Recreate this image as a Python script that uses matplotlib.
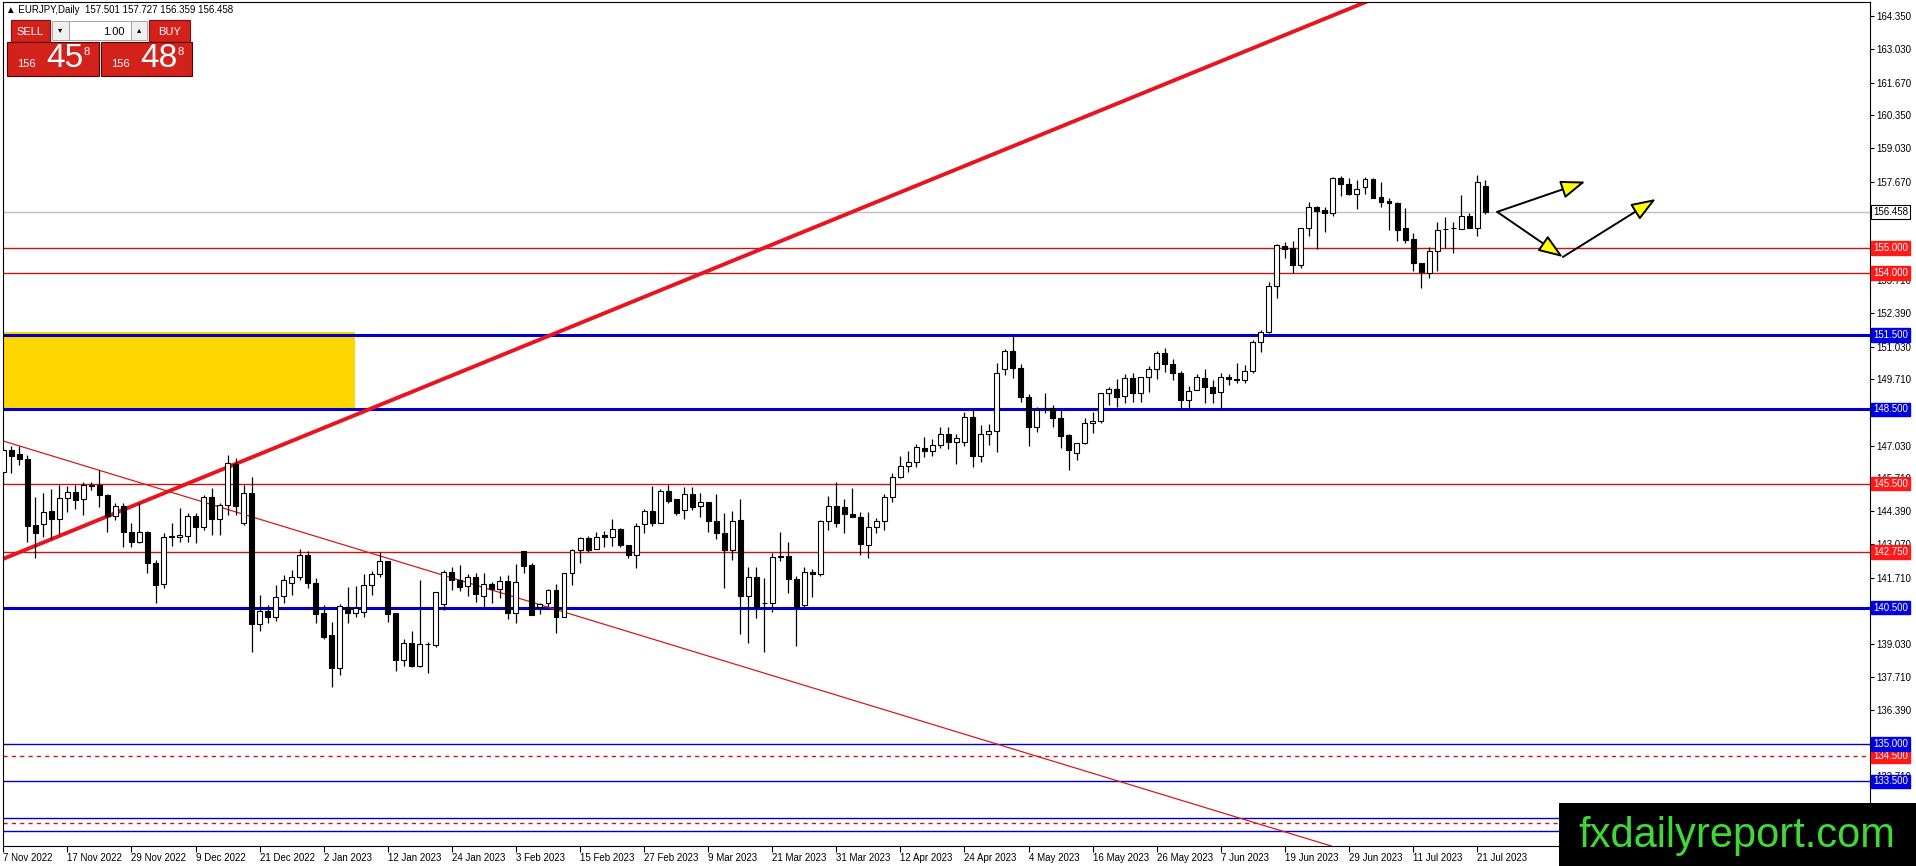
import numpy as np
import matplotlib
matplotlib.use('Agg')
import matplotlib.pyplot as plt
import matplotlib.transforms as mtransforms
from matplotlib.patches import Rectangle, FancyArrowPatch

plt.rcParams['font.family'] = ['Liberation Sans', 'DejaVu Sans']

# ---- data (EURJPY daily, one bar per weekday) ----
symbol = 'EURJPY,Daily'
last_bar = [157.501, 157.727, 156.359, 156.458]
sell_quote = ['156', '45', '8']
buy_quote = ['156', '48', '8']
lot_size = '1.00'

opens = [
    145.96, 146.86, 146.68, 146.50, 143.84, 143.87, 144.38, 144.06, 144.91, 145.18,
    144.87, 145.45, 145.45, 145.04, 144.20, 144.60, 143.57, 143.16, 143.57, 142.30,
    141.45, 143.36, 143.34, 143.40, 144.20, 143.74, 144.95, 144.06, 144.64, 146.29,
    143.90, 145.11, 139.83, 140.37, 140.14, 140.97, 141.50, 141.75, 142.62, 141.50,
    140.27, 139.40, 138.08, 140.54, 140.30, 140.34, 141.42, 141.86, 142.38, 140.27,
    138.39, 139.06, 138.15, 139.02, 139.00, 140.65, 141.95, 141.62, 141.37, 141.75,
    140.97, 141.45, 141.24, 141.58, 140.30, 142.79, 142.22, 140.54, 140.67, 141.21,
    140.14, 141.89, 142.83, 143.30, 142.85, 143.42, 143.34, 143.66, 143.03, 142.62,
    143.86, 144.40, 143.93, 145.20, 144.87, 144.44, 145.08, 144.60, 144.75, 144.00,
    143.50, 142.83, 144.04, 140.97, 141.72, 140.68, 140.68, 142.56, 142.58, 141.64,
    140.61, 141.95, 141.86, 143.99, 144.60, 144.55, 144.26, 144.17, 143.03, 143.77,
    143.99, 144.98, 145.78, 146.23, 146.36, 146.93, 146.83, 147.06, 147.50, 147.17,
    147.19, 148.18, 146.63, 147.50, 147.64, 150.11, 150.86, 150.15, 148.98, 147.77,
    148.55, 148.57, 148.14, 147.47, 146.75, 147.13, 147.93, 148.04, 149.14, 149.31,
    149.04, 149.75, 149.17, 149.82, 150.11, 150.76, 150.33, 149.98, 148.88, 149.28,
    149.75, 149.41, 149.21, 149.82, 149.71, 149.69, 150.06, 151.23, 151.63, 153.47,
    155.10, 154.99, 154.32, 155.80, 156.67, 156.54, 156.40, 157.81, 157.59, 157.17,
    157.45, 157.77, 157.05, 156.90, 156.83, 155.80, 155.36, 154.39, 154.01, 154.88,
    155.77, 155.80, 155.77, 156.31, 155.80, 157.501]

highs = [
    146.95, 147.00, 147.02, 146.66, 144.98, 145.14, 145.27, 145.45, 145.42, 145.45,
    145.58, 145.58, 146.05, 145.10, 144.71, 144.71, 143.93, 144.71, 143.60, 142.42,
    143.53, 143.93, 144.51, 144.30, 144.30, 145.04, 145.31, 144.71, 146.66, 146.52,
    145.45, 145.78, 141.00, 140.61, 141.40, 141.80, 142.00, 142.85, 142.80, 141.70,
    140.60, 139.94, 140.65, 141.35, 141.37, 141.86, 141.99, 142.76, 142.40, 140.30,
    139.23, 139.56, 141.62, 139.10, 141.15, 142.00, 142.15, 142.22, 141.85, 141.91,
    141.89, 141.55, 141.78, 141.82, 142.25, 142.80, 142.29, 140.70, 141.24, 141.45,
    141.90, 142.85, 143.34, 143.39, 143.56, 143.60, 144.06, 143.70, 143.03, 143.93,
    144.47, 145.41, 145.27, 145.45, 144.87, 145.35, 145.35, 145.11, 144.75, 145.07,
    144.30, 144.41, 144.87, 142.15, 142.15, 141.68, 142.69, 143.56, 143.16, 141.78,
    142.15, 142.05, 144.04, 145.00, 145.58, 144.87, 145.31, 144.37, 144.37, 144.13,
    145.07, 145.92, 146.62, 146.82, 147.10, 147.37, 147.29, 147.80, 147.80, 147.50,
    148.40, 148.54, 147.87, 147.91, 150.35, 150.92, 151.46, 150.33, 149.12, 148.61,
    149.17, 148.67, 148.57, 147.50, 147.13, 148.14, 148.41, 149.15, 149.39, 149.71,
    149.91, 149.95, 149.82, 150.25, 150.85, 150.96, 150.52, 150.06, 149.44, 149.92,
    150.11, 149.68, 149.95, 149.92, 150.36, 150.29, 151.30, 151.70, 153.65, 155.17,
    155.23, 155.30, 155.80, 156.85, 156.70, 156.65, 157.85, 157.91, 157.81, 157.75,
    157.85, 157.81, 157.68, 157.01, 156.87, 156.60, 155.60, 154.39, 155.03, 156.07,
    156.27, 156.07, 157.14, 156.40, 157.95, 157.727]

lows = [
    145.49, 145.92, 146.25, 143.16, 142.49, 143.36, 143.26, 143.47, 144.37, 144.47,
    144.24, 145.25, 144.57, 143.57, 144.04, 142.96, 142.96, 143.10, 141.90, 140.68,
    141.30, 142.99, 143.16, 143.16, 143.10, 143.63, 143.43, 143.43, 144.24, 144.24,
    143.84, 138.73, 139.57, 139.87, 139.98, 140.70, 141.00, 141.60, 141.30, 139.90,
    139.22, 137.32, 137.79, 139.90, 140.11, 140.11, 141.01, 141.75, 139.94, 137.95,
    138.15, 138.12, 138.12, 137.85, 138.93, 140.40, 141.22, 141.17, 140.98, 140.74,
    140.54, 140.68, 140.88, 140.03, 139.87, 141.89, 140.20, 140.23, 140.54, 139.49,
    140.11, 141.42, 142.29, 142.76, 142.85, 142.96, 142.99, 142.96, 142.49, 142.09,
    143.50, 143.79, 143.93, 144.71, 144.24, 144.06, 144.44, 144.14, 143.57, 143.26,
    141.28, 142.42, 139.44, 139.06, 140.07, 138.73, 140.34, 142.40, 141.08, 138.96,
    140.54, 140.94, 141.78, 143.63, 143.77, 143.53, 144.14, 142.62, 142.49, 143.50,
    143.63, 144.78, 145.72, 145.99, 146.16, 146.59, 146.63, 146.95, 146.90, 146.29,
    147.03, 146.19, 146.36, 147.06, 146.79, 149.88, 149.75, 148.80, 147.03, 147.60,
    148.37, 147.80, 146.93, 146.05, 146.45, 147.10, 147.53, 147.96, 148.67, 148.61,
    148.74, 148.81, 148.81, 149.21, 149.71, 150.02, 149.68, 148.50, 148.50, 149.28,
    148.77, 148.77, 148.50, 149.48, 149.55, 149.58, 149.95, 150.83, 151.59, 152.97,
    154.59, 153.98, 154.18, 155.49, 154.95, 155.66, 156.31, 157.11, 157.14, 156.58,
    157.17, 157.01, 156.67, 155.73, 155.30, 155.22, 154.09, 153.38, 153.78, 154.09,
    154.99, 154.79, 155.77, 155.80, 155.49, 156.359]

closes = [
    146.86, 146.63, 146.48, 143.81, 143.53, 144.37, 144.06, 144.91, 145.18, 144.84,
    145.45, 145.42, 145.04, 144.20, 144.60, 143.57, 143.16, 143.54, 142.29, 141.40,
    143.36, 143.38, 143.43, 144.20, 143.77, 144.95, 144.06, 144.64, 146.32, 144.60,
    145.11, 139.83, 140.37, 140.14, 140.92, 141.60, 141.75, 142.62, 141.50, 140.23,
    139.33, 138.08, 140.57, 140.30, 140.50, 141.42, 141.86, 142.38, 140.23, 138.39,
    139.06, 138.15, 139.02, 139.04, 141.12, 141.95, 141.62, 141.35, 141.72, 141.04,
    141.44, 141.24, 141.58, 140.30, 141.52, 142.19, 140.20, 140.65, 141.21, 140.14,
    141.89, 142.83, 143.30, 142.83, 143.34, 143.34, 143.66, 143.03, 142.62, 143.81,
    144.40, 143.93, 145.20, 144.80, 144.33, 145.08, 144.57, 144.75, 144.00, 143.52,
    142.83, 144.01, 140.97, 141.72, 140.54, 140.67, 142.56, 142.58, 141.64, 140.54,
    141.95, 141.86, 143.99, 144.60, 143.93, 144.28, 144.17, 143.07, 143.77, 143.99,
    144.98, 145.78, 146.23, 146.36, 146.97, 146.83, 147.06, 147.50, 147.17, 147.33,
    148.18, 146.63, 147.50, 147.64, 149.98, 150.86, 150.15, 148.98, 147.77, 148.47,
    148.57, 148.14, 147.44, 146.86, 147.13, 147.93, 148.04, 149.14, 149.31, 148.98,
    149.75, 149.17, 149.82, 150.11, 150.76, 150.33, 149.95, 148.88, 149.25, 149.82,
    149.41, 149.17, 149.82, 149.71, 149.69, 150.06, 151.23, 151.63, 153.47, 155.13,
    154.96, 154.32, 155.80, 156.67, 156.51, 156.40, 157.81, 157.57, 157.17, 157.37,
    157.77, 157.03, 156.87, 156.81, 155.73, 155.33, 154.39, 154.05, 154.88, 155.73,
    155.79, 155.82, 156.31, 155.80, 157.65, 156.458]

date_labels = ['7 Nov 2022', '17 Nov 2022', '29 Nov 2022', '9 Dec 2022', '21 Dec 2022',
               '2 Jan 2023', '12 Jan 2023', '24 Jan 2023', '3 Feb 2023', '15 Feb 2023',
               '27 Feb 2023', '9 Mar 2023', '21 Mar 2023', '31 Mar 2023', '12 Apr 2023',
               '24 Apr 2023', '4 May 2023', '16 May 2023', '26 May 2023', '7 Jun 2023',
               '19 Jun 2023', '29 Jun 2023', '11 Jul 2023', '21 Jul 2023']
bars_per_label = 8

price_ticks = [164.35, 163.03, 161.67, 160.35, 159.03, 157.67, 153.71, 152.39, 151.03,
               149.71, 147.03, 145.71, 144.39, 143.07, 141.71, 139.03, 137.71, 136.39, 133.71]

blue_thick = [151.5, 148.5, 140.5]
blue_thin = [135.0, 133.5, 132.0, 131.5]
red_thin = [155.0, 154.0, 145.5, 142.75]
red_dashed = [134.5, 131.8]
red_labels = [155.0, 154.0, 145.5, 142.75, 134.5]
blue_labels = [151.5, 148.5, 140.5, 135.0, 133.5]

# drawings: (bar, price) anchors
trend_up = [(0, 142.47), (100, 155.67)]
trend_down = [(0, 147.22), (100, 137.37)]
zone_bars = [-1, 43.9]
zone_prices = [148.55, 151.62]
arrow_paths = [[(186.5, 156.46), (197.5, 157.68)],
               [(186.5, 156.46), (194.7, 154.64)],
               [(194.7, 154.64), (206.3, 156.98)]]

# ---- figure ----
W, H = 1916, 866
fig = plt.figure(figsize=(W / 100, H / 100), dpi=100)
fig.patch.set_facecolor('white')
ax = fig.add_axes([3 / W, 20 / H, 1867 / W, 844 / H])
ax.set_xlim(-0.04, 233.05)
ax.set_ylim(130.891, 164.923)

o = np.array(opens)
h = np.array(highs)
l = np.array(lows)
c = np.array(closes)
x = np.arange(len(o))
up = c >= o

# levels
for v in blue_thick:
    ax.axhline(v, color='#0000c8', lw=2.2, zorder=2)
for v in blue_thin:
    ax.axhline(v, color='#0000c8', lw=1.0, zorder=2)
for v in red_thin:
    ax.axhline(v, color='#c81414', lw=1.0, zorder=2)
for v in red_dashed:
    ax.axhline(v, color='#d01414', lw=1.0, ls=(0, (3, 3)), zorder=2)
ax.axhline(last_bar[3], color='#c0c0c0', lw=1.0, zorder=1.8)

ax.fill_between(zone_bars, zone_prices[0], zone_prices[1], color='#ffd700', lw=0, zorder=1)

ax.axline(trend_up[0], trend_up[1], color='#e8141e', lw=2.8, zorder=2.5)
ax.axline(trend_down[0], trend_down[1], color='#d41c1c', lw=0.9, zorder=2.5)

# candles
ax.vlines(x, l, h, color='black', lw=0.9, zorder=3)
body_low = np.minimum(o, c)
body_h = np.maximum(np.abs(c - o), 0.015)
ax.bar(x, body_h, bottom=body_low, width=0.62,
       color=np.where(up, 'white', 'black'), edgecolor='black', linewidth=0.8, zorder=4)

for a, b in arrow_paths:
    ax.add_patch(FancyArrowPatch(a, b, arrowstyle='-|>,head_length=0.75,head_width=0.28',
                                 mutation_scale=20, fc='#ffff00', ec='black', lw=1.4,
                                 shrinkA=0, shrinkB=0, zorder=6))

# axes
for s in ax.spines.values():
    s.set_color('black')
    s.set_linewidth(0.8)
ax.yaxis.tick_right()
ax.set_yticks(price_ticks)
ax.set_yticklabels([f'{v:.3f}' for v in price_ticks])
ax.tick_params(axis='y', direction='out', length=3, width=0.8, labelsize=7, pad=1.5)
ticks_x = np.arange(0, len(o), bars_per_label)[:len(date_labels)]
ax.set_xticks(ticks_x)
ax.set_xticklabels(date_labels, ha='left')
ax.tick_params(axis='x', direction='out', length=4, width=0.8, labelsize=7, pad=1)

trans = mtransforms.blended_transform_factory(ax.transAxes, ax.transData)
lab_x = 1 + 3 / 1867
for v in red_labels:
    ax.text(lab_x, v, f'{v:.3f}', transform=trans, ha='left', va='center', fontsize=7,
            color='white', clip_on=False, zorder=5,
            bbox=dict(boxstyle='square,pad=0.18', fc='#ff1a1a', ec='#ff1a1a'))
for v in blue_labels:
    ax.text(lab_x, v, f'{v:.3f}', transform=trans, ha='left', va='center', fontsize=7,
            color='white', clip_on=False, zorder=5,
            bbox=dict(boxstyle='square,pad=0.18', fc='#0000e0', ec='#0000e0'))
ax.text(lab_x, last_bar[3], f'{last_bar[3]:.3f}', transform=trans, ha='left', va='center',
        fontsize=7, color='black', clip_on=False, zorder=5,
        bbox=dict(boxstyle='square,pad=0.18', fc='white', ec='black', lw=0.8))


# ---- overlays in pixel coordinates ----
def px_rect(x0, y0, x1, y1, **kw):
    fig.patches.append(Rectangle((x0 / W, 1 - y1 / H), (x1 - x0) / W, (y1 - y0) / H,
                                 transform=fig.transFigure, **kw))


def px_text(xp, yp, s, **kw):
    fig.text(xp / W, 1 - yp / H, s, **kw)


header = '\u25b2 ' + symbol + '  ' + ' '.join(f'{v:.3f}' for v in last_bar)
px_text(6, 13, header, fontsize=7, va='baseline', ha='left', zorder=7)

red = '#d3211c'
px_rect(11, 20, 50, 42, fc=red, ec='#8a0c0c', lw=0.8, zorder=5)
px_text(30, 35, 'SELL', fontsize=8, color='white', ha='center', va='baseline', zorder=7)
px_rect(52, 21, 69, 40, fc='#efefef', ec='#9a9a9a', lw=0.6, zorder=5)
px_text(60.5, 31, '\u25be', fontsize=6, color='black', ha='center', va='center', zorder=7)
px_rect(69, 21, 131, 40, fc='white', ec='#9a9a9a', lw=0.6, zorder=5)
px_text(125, 35, lot_size, fontsize=8, color='black', ha='right', va='baseline', zorder=7)
px_rect(131, 21, 147, 40, fc='#efefef', ec='#9a9a9a', lw=0.6, zorder=5)
px_text(139, 31, '\u25b4', fontsize=6, color='black', ha='center', va='center', zorder=7)
px_rect(149, 20, 190, 42, fc=red, ec='#8a0c0c', lw=0.8, zorder=5)
px_text(169.5, 35, 'BUY', fontsize=8, color='white', ha='center', va='baseline', zorder=7)

for (x0, x1), quote in [((7, 99), sell_quote), ((101, 192), buy_quote)]:
    px_rect(x0, 42, x1, 76, fc=red, ec='#5a0000', lw=0.8, zorder=5)
    px_text(x0 + 10, 67, quote[0], fontsize=8, color='white', ha='left', va='baseline', zorder=7)
    px_text(x0 + 39, 67, quote[1], fontsize=24, color='white', ha='left', va='baseline', zorder=7)
    px_text(x0 + 76, 55, quote[2], fontsize=8, color='white', ha='left', va='baseline', zorder=7)

px_rect(1559, 803, 1916, 866, fc='black', ec='none', zorder=8)
px_text(1737, 836, 'fxdailyreport.com', fontsize=30, color='#3fd838',
        ha='center', va='center', zorder=9)

fig.savefig('out.png', dpi=100)
